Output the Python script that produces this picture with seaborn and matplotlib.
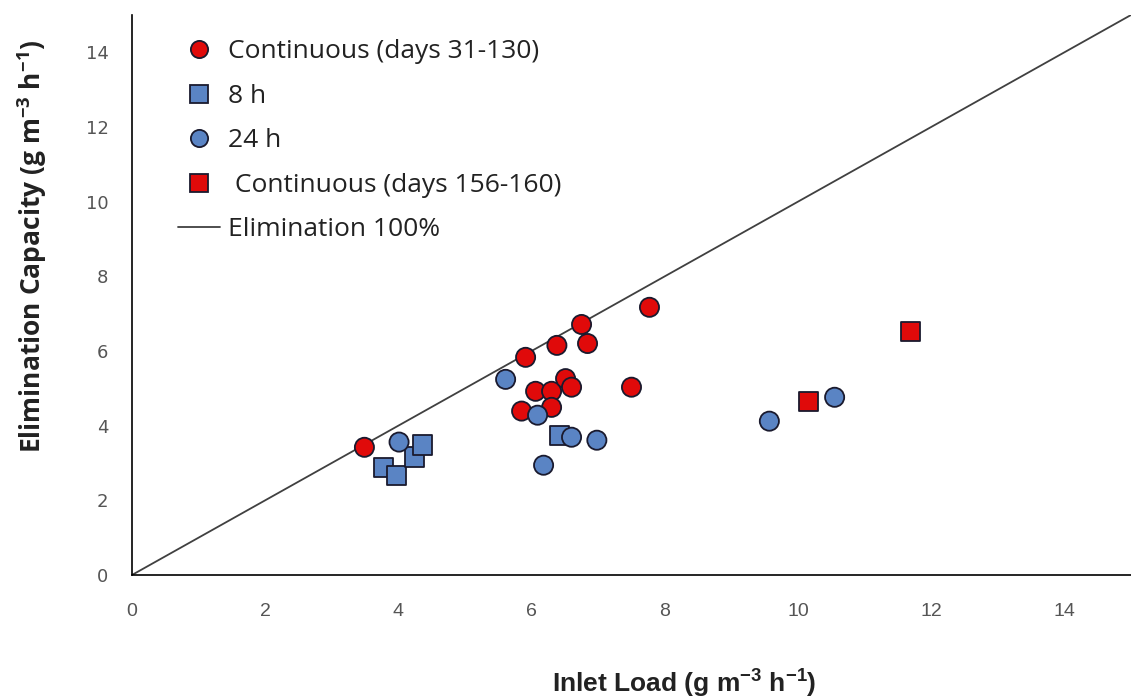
import numpy as np
import pandas as pd
import seaborn as sns
from matplotlib import pyplot as plt

# Series values
cont_early_x = [3.49, 5.85, 5.91, 6.06, 6.30, 6.30, 6.38, 6.51, 6.60, 6.75, 6.84, 7.50, 7.77]
cont_early_y = [3.42, 4.39, 5.83, 4.92, 4.92, 4.49, 6.15, 5.26, 5.03, 6.71, 6.20, 5.03, 7.17]

h8_x = [3.77, 3.97, 4.24, 4.36, 6.42]
h8_y = [2.89, 2.67, 3.16, 3.48, 3.74]

h24_x = [4.01, 5.61, 6.09, 6.18, 6.60, 6.98, 9.57, 10.55]
h24_y = [3.56, 5.24, 4.28, 2.94, 3.69, 3.61, 4.12, 4.76]

cont_late_x = [10.16, 11.69]
cont_late_y = [4.65, 6.52]

line_x = [0, 15]
line_y = [0, 15]

series_names = ["Continuous (days 31-130)", "8 h", "24 h", " Continuous (days 156-160)"]

df = pd.concat([
    pd.DataFrame({"x": cont_early_x, "y": cont_early_y, "serie": series_names[0]}),
    pd.DataFrame({"x": h8_x, "y": h8_y, "serie": series_names[1]}),
    pd.DataFrame({"x": h24_x, "y": h24_y, "serie": series_names[2]}),
    pd.DataFrame({"x": cont_late_x, "y": cont_late_y, "serie": series_names[3]}),
])

sns.set_style("white")
plt.rcParams['font.family'] = ['Open Sans', 'DejaVu Sans']
plt.rcParams['mathtext.default'] = 'regular'

narrow = ['Liberation Sans Narrow', 'Liberation Sans', 'DejaVu Sans']

fig = plt.figure(figsize=(11.31, 7), dpi=100)
ax = fig.add_axes([0.1167, 0.1786, 0.8833, 0.80])

cores = {series_names[0]: "#E00A0A", series_names[1]: "#5A84C4",
         series_names[2]: "#5A84C4", series_names[3]: "#E00A0A"}
marcadores = {series_names[0]: "o", series_names[1]: "s",
              series_names[2]: "o", series_names[3]: "s"}

sns.scatterplot(data=df, x="x", y="y", hue="serie", style="serie",
                hue_order=series_names, style_order=series_names,
                palette=cores, markers=marcadores, s=190,
                edgecolor="#1a1a2e", linewidth=1.3, ax=ax, zorder=3)

sns.lineplot(x=line_x, y=line_y, color="#404040", linewidth=1.3,
             label="Elimination 100%", ax=ax, zorder=2)

# Eixos
ax.set_xlim(0, 15)
ax.set_ylim(0, 15)
ax.set_xticks(np.arange(0, 15, 2))
ax.set_yticks(np.arange(0, 15, 2))
sns.despine(ax=ax)
for s in ["left", "bottom"]:
    ax.spines[s].set_color("black")
    ax.spines[s].set_linewidth(1.2)
ax.tick_params(axis="both", direction="out", length=7, width=1, color="black",
               labelcolor="#555555")
ax.tick_params(axis="x", pad=13)
ax.tick_params(axis="y", pad=10)
for lbl in ax.get_xticklabels():
    lbl.set_family(narrow)
    lbl.set_fontsize(14)
for lbl in ax.get_yticklabels():
    lbl.set_family(['DejaVu Sans'])
    lbl.set_fontsize(13)

ax.set_xlabel("Inlet Load (g m$^{-3}$ h$^{-1}$)", fontsize=19, fontweight="bold",
              color="#222222", family=narrow)
ax.xaxis.set_label_coords(0.553, -0.165)
ax.set_ylabel("Elimination Capacity (g m$^{-3}$ h$^{-1}$)", fontsize=19,
              fontweight="bold", color="#222222")
ax.yaxis.set_label_coords(-0.083, 0.586)

# Legenda
handles, labels = ax.get_legend_handles_labels()
leg = ax.legend(handles, labels, loc="upper left", bbox_to_anchor=(0.03, 0.985),
                frameon=False, fontsize=19, handletextpad=0.3, labelspacing=0.74,
                handlelength=1.6, markerscale=0.9, borderaxespad=0.2)
for t in leg.get_texts():
    t.set_color("#222222")

plt.savefig("out.png", dpi=100)
plt.close()
